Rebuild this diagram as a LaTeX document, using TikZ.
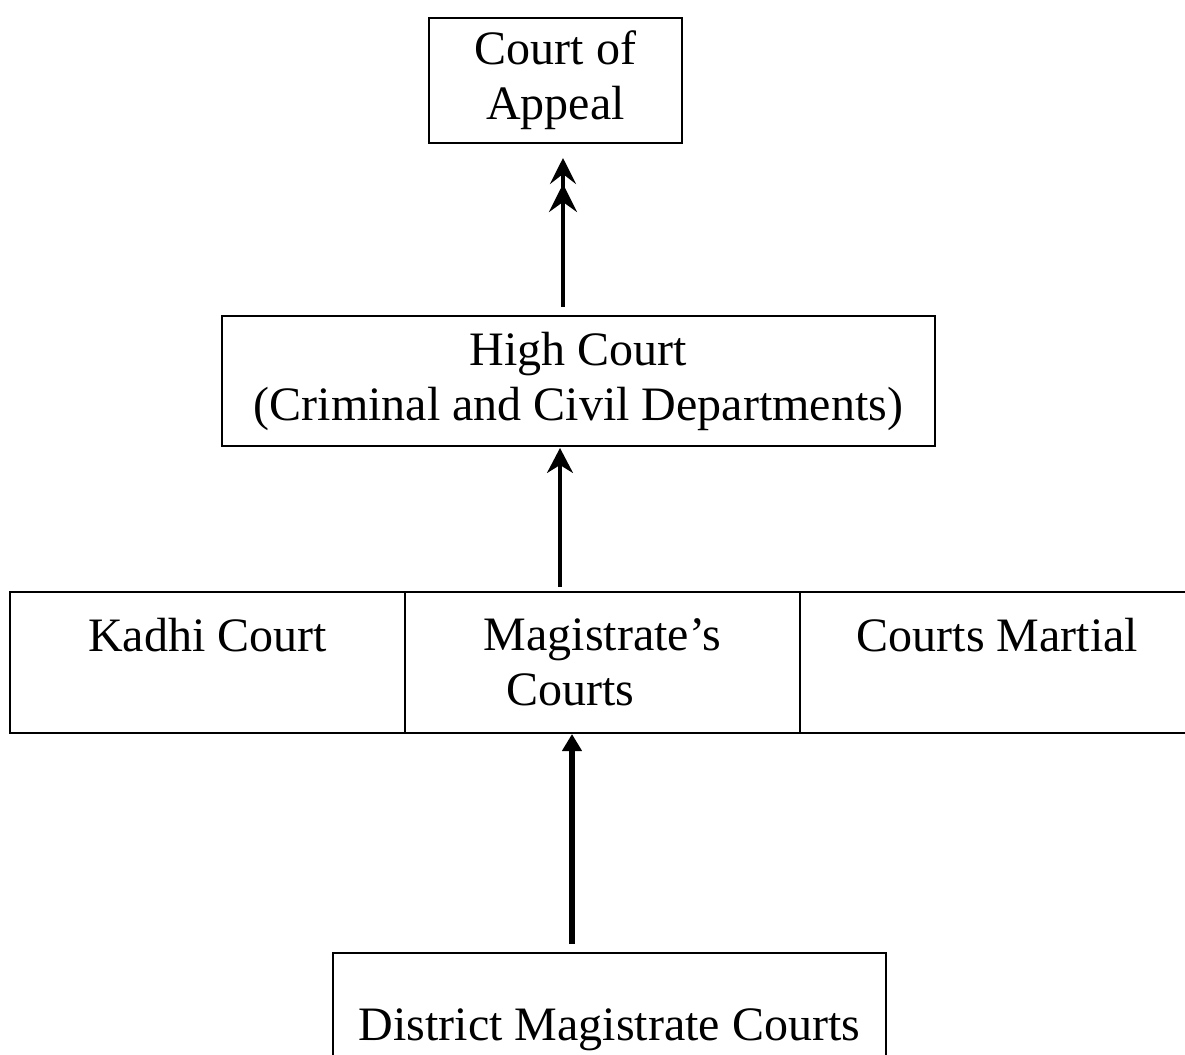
\documentclass[tikz,border=0pt]{standalone}
\usepackage{fontspec}
\setmainfont{Liberation Serif}
\usetikzlibrary{arrows.meta}

\begin{document}
\begin{tikzpicture}[x=0.5pt, y=-0.5pt,
  box/.style={draw, line width=1pt, align=center, inner sep=0pt,
    font=\fontsize{24}{27.5}\selectfont},
  cell/.style={box, minimum width=197.5pt, minimum height=70.5pt},
  upA/.style={line width=2pt, -{Stealth[length=14pt,width=14pt,inset=5pt]Stealth[length=13pt,width=13pt,inset=5pt]}},
  upB/.style={line width=1.6pt, -{Stealth[length=12.5pt,width=13pt,inset=4pt]}},
  upC/.style={line width=2.8pt, -{Triangle[length=8.5pt,width=9.5pt]}}]
  \useasboundingbox (0,0) rectangle (1185,1055);
  \node[box, minimum width=126.5pt, minimum height=62.5pt] (appeal) at (555.5,80.5) {Court of\\Appeal};
  \node[box, minimum width=356.5pt, minimum height=65pt] (high) at (578.5,381) {High Court\\(Criminal and Civil Departments)};
  \node[cell] (kadhi) at (207.5,662.5) {Kadhi Court\\\phantom{Courts}};
  \node[cell] (magis) at (602.5,662.5) {Magistrate’s\\Courts\hspace*{32pt}};
  \node[cell] (martial) at (997.5,662.5) {Courts Martial\\\phantom{Courts}};
  \node[box, minimum width=276.5pt, minimum height=99pt] (district) at (609.5,1052) {District Magistrate Courts\\\phantom{Courts}};
  \draw[upA] ([shift={(-15.5,-8)}]high.north) -- ([shift={(7.5,14)}]appeal.south);
  \draw[upB] ([shift={(-42.5,-4)}]magis.north) -- ([shift={(-18.5,1)}]high.south);
  \draw[upC] ([shift={(-37.5,-8)}]district.north) -- ([shift={(-30.5,0)}]magis.south);
\end{tikzpicture}
\end{document}
